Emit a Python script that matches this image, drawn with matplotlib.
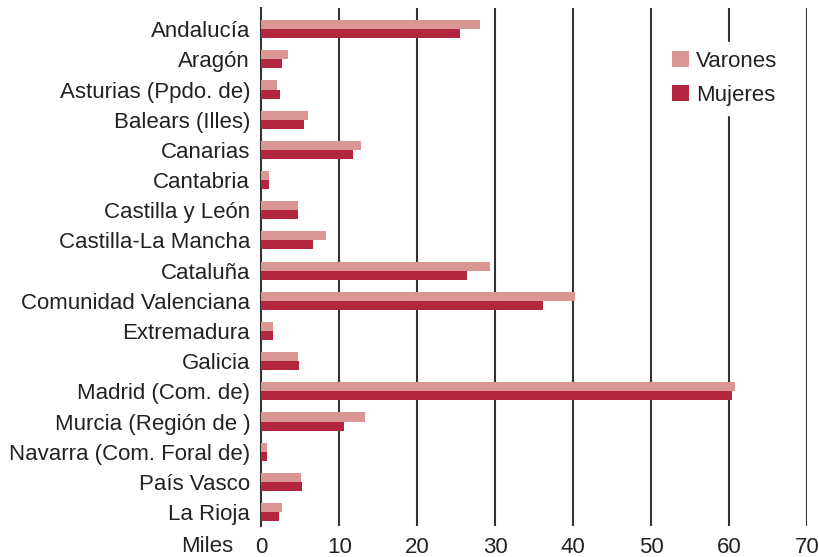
import matplotlib
matplotlib.use("Agg")
import matplotlib.pyplot as plt
import numpy as np

plt.rcParams['font.family'] = ['Liberation Sans', 'DejaVu Sans']

regions = ["Andalucía", "Aragón", "Asturias (Ppdo. de)", "Balears (Illes)", "Canarias",
           "Cantabria", "Castilla y León", "Castilla-La Mancha", "Cataluña",
           "Comunidad Valenciana", "Extremadura", "Galicia", "Madrid (Com. de)",
           "Murcia (Región de )", "Navarra (Com. Foral de)", "País Vasco", "La Rioja"]
varones = [28.0, 3.4, 2.0, 6.0, 12.8, 1.0, 4.7, 8.3, 29.4, 40.2, 1.5, 4.7, 60.8, 13.3, 0.8, 5.1, 2.6]
mujeres = [25.5, 2.65, 2.4, 5.5, 11.75, 1.0, 4.7, 6.6, 26.4, 36.2, 1.45, 4.9, 60.4, 10.6, 0.75, 5.2, 2.25]
xticks = [0, 10, 20, 30, 40, 50, 60, 70]

c_var = "#D99692"
c_muj = "#B22640"
txt = "#222222"
fs = 16

fig = plt.figure(figsize=(8.19, 5.57), dpi=100)
ax = fig.add_axes([0.319, 0.0557, 0.9853 - 0.319, 0.9856 - 0.0557])

y = np.arange(len(regions))
h = 0.3
ax.barh(y - h / 2, varones, height=h, color=c_var, label="Varones", zorder=3)
ax.barh(y + h / 2, mujeres, height=h, color=c_muj, label="Mujeres", zorder=3)

ax.set_xlim(0, 70)
ax.set_ylim(len(regions) - 1 + 0.46, -0.7)
ax.set_yticks(y)
ax.set_yticklabels(regions, fontsize=fs, color=txt)
ax.set_xticks(xticks)
ax.set_xticklabels([str(t) for t in xticks], fontsize=fs, color=txt)
ax.tick_params(axis='y', length=0, pad=8)
ax.tick_params(axis='x', length=0, pad=8)
for s in ["top", "right", "bottom"]:
    ax.spines[s].set_visible(False)
ax.spines["left"].set_color("#333333")
ax.spines["left"].set_linewidth(1.5)
for t in xticks[1:]:
    ax.axvline(t, color="#333333", linewidth=1.5, zorder=1)

leg = ax.legend(loc="upper right", bbox_to_anchor=(0.9615, 0.935), borderaxespad=0,
                frameon=True, fontsize=fs,
                handlelength=0.75, handleheight=0.7, handletextpad=0.3, labelspacing=0.6,
                borderpad=0.4, fancybox=False)
leg.get_frame().set_edgecolor("white")
leg.get_frame().set_facecolor("white")
leg.get_frame().set_alpha(1)
leg.set_zorder(5)
for t in leg.get_texts():
    t.set_color(txt)

fig.text(181 / 819, 1 - 547 / 557, "Miles", fontsize=fs, color=txt, va="center", ha="left")

fig.savefig("out.png", dpi=100)
